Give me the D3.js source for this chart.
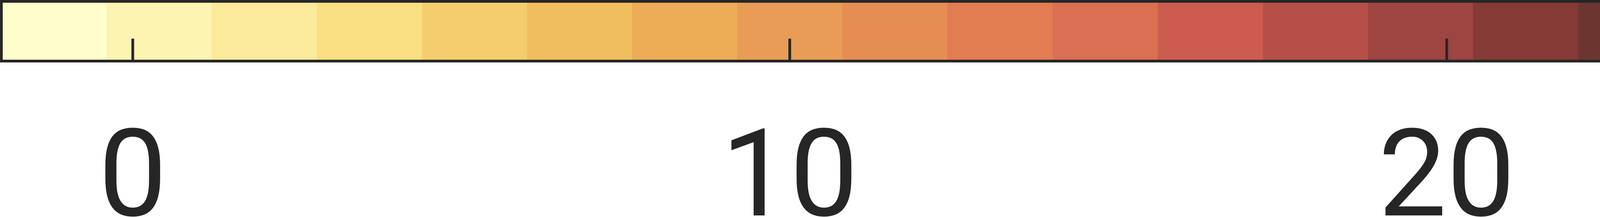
<!DOCTYPE html>
<html>
<head>
<meta charset="utf-8">
<script src="https://cdn.jsdelivr.net/npm/d3@7"></script>
<style>
  html, body { margin: 0; padding: 0; background: #ffffff; overflow: hidden; }
  svg { display: block; }
</style>
</head>
<body>
<svg id="chart" width="5540" height="556"></svg>
<script>
// ---- data ----
const valueDomain = [-2, 30];
const colorSteps = [
  "#fffdcb", "#fdf4b1", "#fbea99", "#f9df81", "#f4ce6e",
  "#f0be5f", "#edad57", "#e89c56", "#e68d53", "#e27c51",
  "#da6f51", "#cc5c4f", "#b74f49", "#9e4441", "#853a35",
  "#6d352f", "#572d22", "#422719", "#2b2010", "#1a1a00"
];
const tickValues = [0, 10, 20, 30];
const tickLabels = ["0", "10", "20", "30"];

// ---- layout ----
const svg = d3.select("#chart");
const barLeft = 3.5, barRight = 5385.5, barTop = 3.5, barBottom = 156.5;
const ink = "#262626";

const x = d3.scaleLinear().domain(valueDomain).range([barLeft, barRight]);
const color = d3.scaleQuantize().domain(valueDomain).range(colorSteps);

// colour blocks
svg.append("g")
  .selectAll("rect")
  .data(color.range())
  .join("rect")
  .attr("x", d => x(color.invertExtent(d)[0]))
  .attr("width", d => x(color.invertExtent(d)[1]) - x(color.invertExtent(d)[0]) + 0.5)
  .attr("y", barTop)
  .attr("height", barBottom - barTop)
  .attr("fill", d => d)
  .attr("shape-rendering", "crispEdges");

// ticks (inside the bar, from the bottom edge upward)
svg.append("g")
  .selectAll("line")
  .data(tickValues)
  .join("line")
  .attr("x1", d => x(d))
  .attr("x2", d => x(d))
  .attr("y1", 99)
  .attr("y2", barBottom)
  .attr("stroke", ink)
  .attr("stroke-width", 7);

// frame
svg.append("rect")
  .attr("x", barLeft)
  .attr("y", barTop)
  .attr("width", barRight - barLeft)
  .attr("height", barBottom - barTop)
  .attr("fill", "none")
  .attr("stroke", ink)
  .attr("stroke-width", 7);

// labels
svg.append("g")
  .selectAll("text")
  .data(tickValues)
  .join("text")
  .attr("x", d => x(d))
  .attr("y", 552)
  .attr("text-anchor", "middle")
  .attr("font-family", "Roboto, 'Noto Sans', sans-serif")
  .attr("font-size", 312)
  .attr("fill", ink)
  .text((d, i) => tickLabels[i]);
</script>
</body>
</html>
